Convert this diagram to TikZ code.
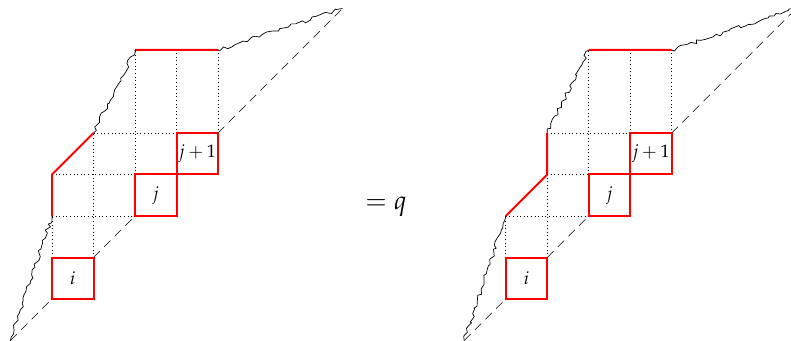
\documentclass[tikz,border=0pt]{standalone}
\usepackage{mathpazo}
\usetikzlibrary{decorations.pathmorphing}
\begin{document}
\begin{tikzpicture}[x=1pt,y=1pt,
  sq/.style={draw=red, line width=2pt, minimum size=41.5pt, inner sep=0pt, outer sep=0pt, font=\fontsize{18}{20}\selectfont},
  diag/.style={line width=0.6pt, dash pattern=on 9pt off 6pt},
  grd/.style={line width=0.6pt, dash pattern=on 0.6pt off 3pt},
  redp/.style={red, line width=2pt},
  jag/.style={line width=0.7pt, line join=round, decorate, decoration={random steps, segment length=3.5pt, amplitude=2pt}}]
\useasboundingbox (0,0) rectangle (791,340);
\pgfmathsetseed{7}
% left diagram
\begin{scope}[shift={(52pt,41pt)}, x=41.5pt, y=41.5pt]
  \coordinate (Ls) at (-1,-1);
  \coordinate (Lt) at (7,7);
  \coordinate (La) at (0,2);
  \coordinate (Lb) at (0,3);
  \coordinate (Lc) at (1,4);
  \coordinate (Ld) at (2,6);
  \coordinate (Le) at (4,6);
  \draw[grd] (0,1) -- (0,2) (1,1) -- (1,4) (2,3) -- (2,6) (3,4) -- (3,6) (4,4) -- (4,6)
             (0,2) -- (2,2) (0,3) -- (2,3) (1,4) -- (3,4);
  \node[sq] (Li) at (0.5,0.5) {$i$};
  \node[sq] (Lj) at (2.5,2.5) {$j$};
  \node[sq] (Lk) at (3.5,3.5) {$j+1$};
  \draw[diag] (Ls) -- (Li.south west) (Li.north east) -- (Lj.south west) (Lk.north east) -- (Lt);
  \draw[redp] (La) -- (Lb) -- (Lc) (Ld) -- (Le);
  \draw[jag] (Ls) -- (La);
  \draw[jag] (Lc) -- (Ld);
  \draw[jag] (Le) -- (Lt);
\end{scope}
\node[anchor=base, font=\fontsize{26}{28}\selectfont] (eq) at (386,131) {$=q$};
% right diagram
\begin{scope}[shift={(505.7pt,41pt)}, x=41.5pt, y=41.5pt]
  \coordinate (Rs) at (-1,-1);
  \coordinate (Rt) at (7,7);
  \coordinate (Ra) at (0,2);
  \coordinate (Rb) at (1,3);
  \coordinate (Rc) at (1,4);
  \coordinate (Rd) at (2,6);
  \coordinate (Re) at (4,6);
  \draw[grd] (0,1) -- (0,2) (1,1) -- (1,3) (2,3) -- (2,6) (3,4) -- (3,6) (4,4) -- (4,6)
             (0,2) -- (2,2) (1,3) -- (2,3) (1,4) -- (3,4);
  \node[sq] (Ri) at (0.5,0.5) {$i$};
  \node[sq] (Rj) at (2.5,2.5) {$j$};
  \node[sq] (Rk) at (3.5,3.5) {$j+1$};
  \draw[diag] (Rs) -- (Ri.south west) (Ri.north east) -- (Rj.south west) (Rk.north east) -- (Rt);
  \draw[redp] (Ra) -- (Rb) -- (Rc) (Rd) -- (Re);
  \draw[jag] (Rs) -- (Ra);
  \draw[jag] (Rc) -- (Rd);
  \draw[jag] (Re) -- (Rt);
\end{scope}
\end{tikzpicture}
\end{document}
